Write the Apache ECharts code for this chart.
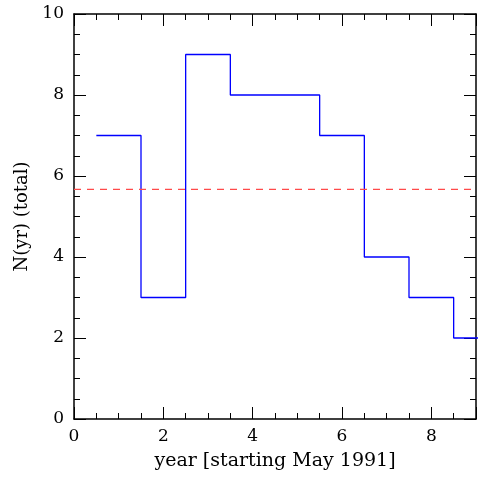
<!DOCTYPE html>
<html>
<head>
<meta charset="utf-8">
<script src="https://cdn.jsdelivr.net/npm/echarts@6/dist/echarts.min.js"></script>
<style>html,body{margin:0;padding:0;background:#fff;}#c{width:479px;height:479px;}</style>
</head>
<body>
<div id="c"></div>
<script>
const years = [1, 2, 3, 4, 5, 6, 7, 8, 9];
const counts = [7, 3, 9, 8, 8, 7, 4, 3, 2];
const meanLevel = 5.67;
const xTicks = [0, 2, 4, 6, 8];
const yTicks = [0, 2, 4, 6, 8, 10];

const stepData = years.map((y, i) => [y - 0.5, counts[i]]);
stepData.push([years[years.length - 1] + 0.5, counts[counts.length - 1]]);

const font = 'DejaVu Serif';
const axisCommon = {
  axisLine: { show: true, onZero: false, lineStyle: { color: '#000', width: 1.5 } },
  axisTick: { show: true, inside: true, length: 12, lineStyle: { color: '#000', width: 1 } },
  minorTick: { show: true, splitNumber: 4, length: 6, lineStyle: { color: '#000', width: 1 } },
  splitLine: { show: false }
};
const chart = echarts.init(document.getElementById('c'));
chart.setOption({
  animation: false,
  grid: { left: 74, right: 1, top: 14, bottom: 60 },
  xAxis: [
    Object.assign({
      type: 'value', min: 0, max: 9, interval: 2, position: 'bottom',
      name: 'year [starting May 1991]', nameLocation: 'middle', nameGap: 33,
      nameTextStyle: { fontFamily: font, fontSize: 19, color: '#000' },
      axisLabel: { fontFamily: font, fontSize: 17, color: '#000', margin: 9,
        formatter: v => xTicks.includes(v) ? String(v) : '' }
    }, axisCommon),
    Object.assign({
      type: 'value', min: 0, max: 9, interval: 2, position: 'top',
      axisLabel: { show: false }
    }, axisCommon)
  ],
  yAxis: [
    Object.assign({
      type: 'value', min: 0, max: 10, interval: 2, position: 'left',
      name: 'N(yr) (total)', nameLocation: 'middle', nameGap: 41, nameRotate: 90,
      nameTextStyle: { fontFamily: font, fontSize: 18, color: '#000' },
      axisLabel: { fontFamily: font, fontSize: 17, color: '#000', margin: 10,
        formatter: v => yTicks.includes(v) ? String(v) : '' }
    }, axisCommon),
    Object.assign({
      type: 'value', min: 0, max: 10, interval: 2, position: 'right',
      axisLabel: { show: false }
    }, axisCommon)
  ],
  series: [
    {
      type: 'line', step: 'end', data: stepData, symbol: 'none',
      lineStyle: { color: '#0000ff', width: 1.3 }, clip: true
    },
    {
      type: 'line', data: [[0, meanLevel], [9, meanLevel]], symbol: 'none',
      lineStyle: { color: '#ff4a4a', width: 1.3, type: [7, 6] }
    }
  ]
});
</script>
</body>
</html>
